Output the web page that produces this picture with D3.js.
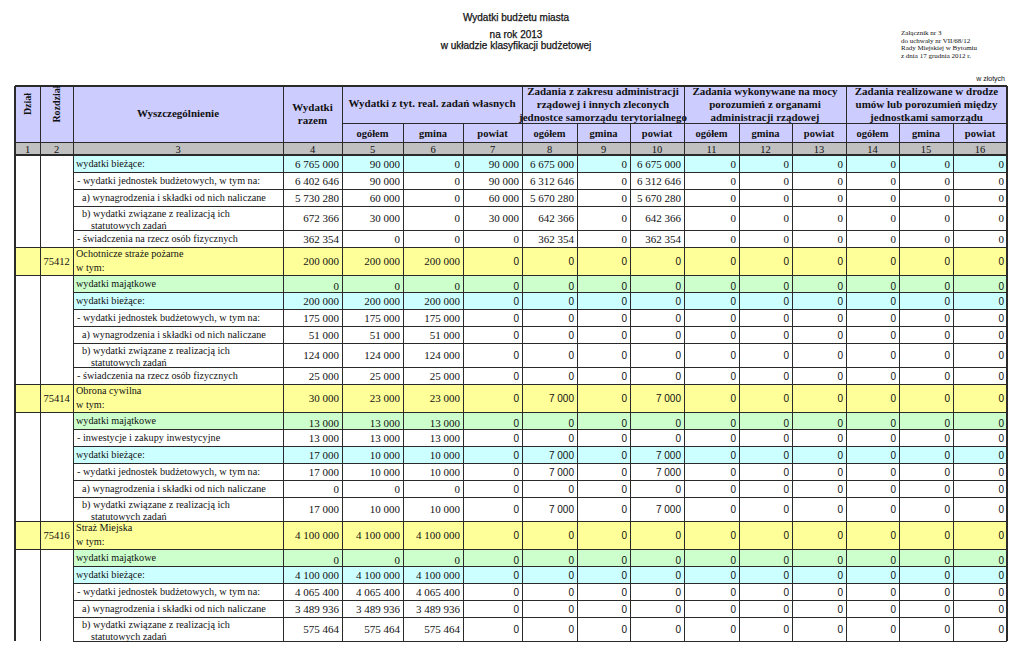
<!DOCTYPE html>
<html>
<head>
<meta charset="utf-8">
<script src="https://cdn.jsdelivr.net/npm/d3@7"></script>
<style>
body { margin: 0; background: #fff; }
svg text { fill: #111; }
</style>
</head>
<body>
<svg id="chart" width="1023" height="672"></svg>
<script>
// ---- data ----
var titleLines = ["Wydatki budżetu miasta", "na rok 2013", "w układzie klasyfikacji budżetowej"];
var noteLines = ["Załącznik nr 3", "do uchwały nr VII/68/12", "Rady Miejskiej w Bytomiu", "z dnia 17 grudnia 2012 r."];
var unitLabel = "w złotych";
var colNumbers = d3.range(1, 17);
var groupHeads = [
  ["Wydatki z tyt. real. zadań własnych"],
  ["Zadania z zakresu administracji", "rządowej i innych zleconych", "jednostce samorządu terytorialnego"],
  ["Zadania wykonywane na mocy", "porozumień z organami", "administracji rządowej"],
  ["Zadania realizowane w drodze", "umów lub porozumień między", "jednostkami samorządu"]
];
var subHeads = ["ogółem", "gmina", "powiat"];

// kind: sec = rozdział row, maj = wydatki majątkowe, biez = wydatki bieżące, sub/sub2 = plain rows
var block0 = [
  {kind: "biez", label: ["wydatki bieżące:"], v: [6765000, 90000, 0, 90000, 6675000, 0, 6675000, 0, 0, 0, 0, 0, 0]},
  {kind: "sub", label: ["- wydatki jednostek budżetowych, w tym na:"], v: [6402646, 90000, 0, 90000, 6312646, 0, 6312646, 0, 0, 0, 0, 0, 0]},
  {kind: "sub2", label: ["a) wynagrodzenia i składki od nich naliczane"], v: [5730280, 60000, 0, 60000, 5670280, 0, 5670280, 0, 0, 0, 0, 0, 0]},
  {kind: "sub2", label: ["b) wydatki związane z realizacją ich", "statutowych zadań"], v: [672366, 30000, 0, 30000, 642366, 0, 642366, 0, 0, 0, 0, 0, 0]},
  {kind: "sub", label: ["- świadczenia na rzecz osób fizycznych"], v: [362354, 0, 0, 0, 362354, 0, 362354, 0, 0, 0, 0, 0, 0]}
];
var block75412 = [
  {kind: "sec", code: "75412", label: ["Ochotnicze straże pożarne", "w tym:"], v: [200000, 200000, 200000, 0, 0, 0, 0, 0, 0, 0, 0, 0, 0]},
  {kind: "maj", label: ["wydatki majątkowe"], v: [0, 0, 0, 0, 0, 0, 0, 0, 0, 0, 0, 0, 0]},
  {kind: "biez", label: ["wydatki bieżące:"], v: [200000, 200000, 200000, 0, 0, 0, 0, 0, 0, 0, 0, 0, 0]},
  {kind: "sub", label: ["- wydatki jednostek budżetowych, w tym na:"], v: [175000, 175000, 175000, 0, 0, 0, 0, 0, 0, 0, 0, 0, 0]},
  {kind: "sub2", label: ["a) wynagrodzenia i składki od nich naliczane"], v: [51000, 51000, 51000, 0, 0, 0, 0, 0, 0, 0, 0, 0, 0]},
  {kind: "sub2", label: ["b) wydatki związane z realizacją ich", "statutowych zadań"], v: [124000, 124000, 124000, 0, 0, 0, 0, 0, 0, 0, 0, 0, 0]},
  {kind: "sub", label: ["- świadczenia na rzecz osób fizycznych"], v: [25000, 25000, 25000, 0, 0, 0, 0, 0, 0, 0, 0, 0, 0]}
];
var block75414 = [
  {kind: "sec", code: "75414", label: ["Obrona cywilna", "w tym:"], v: [30000, 23000, 23000, 0, 7000, 0, 7000, 0, 0, 0, 0, 0, 0]},
  {kind: "maj", label: ["wydatki majątkowe"], v: [13000, 13000, 13000, 0, 0, 0, 0, 0, 0, 0, 0, 0, 0]},
  {kind: "sub", label: ["- inwestycje i zakupy inwestycyjne"], v: [13000, 13000, 13000, 0, 0, 0, 0, 0, 0, 0, 0, 0, 0]},
  {kind: "biez", label: ["wydatki bieżące:"], v: [17000, 10000, 10000, 0, 7000, 0, 7000, 0, 0, 0, 0, 0, 0]},
  {kind: "sub", label: ["- wydatki jednostek budżetowych, w tym na:"], v: [17000, 10000, 10000, 0, 7000, 0, 7000, 0, 0, 0, 0, 0, 0]},
  {kind: "sub2", label: ["a) wynagrodzenia i składki od nich naliczane"], v: [0, 0, 0, 0, 0, 0, 0, 0, 0, 0, 0, 0, 0]},
  {kind: "sub2", label: ["b) wydatki związane z realizacją ich", "statutowych zadań"], v: [17000, 10000, 10000, 0, 7000, 0, 7000, 0, 0, 0, 0, 0, 0]}
];
var block75416 = [
  {kind: "sec", code: "75416", label: ["Straż Miejska", "w tym:"], v: [4100000, 4100000, 4100000, 0, 0, 0, 0, 0, 0, 0, 0, 0, 0]},
  {kind: "maj", label: ["wydatki majątkowe"], v: [0, 0, 0, 0, 0, 0, 0, 0, 0, 0, 0, 0, 0]},
  {kind: "biez", label: ["wydatki bieżące:"], v: [4100000, 4100000, 4100000, 0, 0, 0, 0, 0, 0, 0, 0, 0, 0]},
  {kind: "sub", label: ["- wydatki jednostek budżetowych, w tym na:"], v: [4065400, 4065400, 4065400, 0, 0, 0, 0, 0, 0, 0, 0, 0, 0]},
  {kind: "sub2", label: ["a) wynagrodzenia i składki od nich naliczane"], v: [3489936, 3489936, 3489936, 0, 0, 0, 0, 0, 0, 0, 0, 0, 0]},
  {kind: "sub2", label: ["b) wydatki związane z realizacją ich", "statutowych zadań"], v: [575464, 575464, 575464, 0, 0, 0, 0, 0, 0, 0, 0, 0, 0]}
];
var blocks = [block0, block75412, block75414, block75416];

// ---- layout ----
var colW = [25, 33, 210, 59, 61, 60, 59, 55, 53, 54, 55, 53, 54, 53, 54, 54];
var tblLeft = 15, tblTop = 86;
var edges = [tblLeft].concat(Array.from(d3.cumsum(colW), function(d) { return d + tblLeft }));
var x = d3.scaleOrdinal().domain(d3.range(17)).range(edges); // x(i) = left edge of column i (0-based)
var hdr1 = 123, hdr2 = 142, hdr3 = 155;
var fills = {sec: "#ffff99", maj: "#ccffcc", biez: "#ccffff", sub: "#ffffff", sub2: "#ffffff"};
var serif = "'Liberation Serif', 'Times New Roman', serif",
    sans = "'Liberation Sans', Arial, sans-serif";
var fmt = d3.formatLocale({decimal: ",", thousands: "\u00a0", grouping: [3], currency: ["", ""]}).format(",d");

function rowH(r) {
  if (r.kind == "sec") return 28;
  return r.label.length > 1 ? 24 : 17;
}

// flatten rows with y positions
var rows = [], yy = hdr3;
blocks.forEach(function(b, bi) {
  b.forEach(function(r, ri) {
    rows.push({r: r, y: yy, h: rowH(r), block: bi, first: ri == 0, last: ri == b.length - 1});
    yy += rowH(r);
  });
});
var tblBottom = yy;

var svg = d3.select("#chart");

// titles
svg.append("g").selectAll("text").data(titleLines).join("text")
  .attr("x", 516).attr("y", function(d, i) { return [21, 38, 49][i] })
  .attr("text-anchor", "middle")
  .style("font-family", sans).style("font-size", "10px")
  .style("stroke", "#111").style("stroke-width", 0.25)
  .text(function(d) { return d });
svg.append("g").selectAll("text").data(noteLines).join("text")
  .attr("x", 901).attr("y", function(d, i) { return 35 + i * 7.6 })
  .style("font-family", serif).style("font-size", "7px")
  .text(function(d) { return d });
svg.append("text").attr("x", 1005).attr("y", 81).attr("text-anchor", "end")
  .style("font-family", sans).style("font-size", "7px").text(unitLabel);

// header backgrounds
var head = svg.append("g");
head.append("rect").attr("x", tblLeft).attr("y", tblTop).attr("width", x(16) - tblLeft).attr("height", hdr2 - tblTop).attr("fill", "#ccccff");
head.append("rect").attr("x", tblLeft).attr("y", hdr2).attr("width", x(16) - tblLeft).attr("height", hdr3 - hdr2).attr("fill", "#c0c0c0");

// body backgrounds
var body = svg.append("g");
rows.forEach(function(d) {
  var x0 = d.r.kind == "sec" ? x(0) : x(2);
  body.append("rect").attr("x", x0).attr("y", d.y).attr("width", x(16) - x0).attr("height", d.h)
    .attr("fill", fills[d.r.kind]);
});

// grid lines
var lines = svg.append("g").attr("stroke", "#2a2a2a").attr("stroke-width", 1).attr("shape-rendering", "crispEdges");
function hline(x0, x1, y, w) { lines.append("line").attr("x1", x0).attr("x2", x1).attr("y1", y).attr("y2", y).attr("stroke-width", w || 1) }
function vline(xp, y0, y1, w) { lines.append("line").attr("x1", xp).attr("x2", xp).attr("y1", y0).attr("y2", y1).attr("stroke-width", w || 1) }

[1, 2, 3, 4, 7, 10, 13].forEach(function(i) { vline(x(i), tblTop, hdr1) });
d3.range(1, 16).forEach(function(i) { vline(x(i), hdr1, tblBottom) });
hline(x(4), x(16), hdr1);
hline(tblLeft, x(16), hdr2);
hline(tblLeft, x(16), hdr3, 2);
rows.forEach(function(d) {
  if (d.r.kind == "sec") hline(tblLeft, x(16), d.y);
  hline(d.r.kind == "sec" ? tblLeft : x(2), x(16), d.y + d.h);
});
hline(tblLeft, x(16), tblTop, 2);
vline(tblLeft, tblTop, tblBottom, 2);
vline(x(16), tblTop, tblBottom, 2);

// header texts
var ht = svg.append("g").style("font-family", serif).style("font-weight", "bold").attr("text-anchor", "middle");
ht.append("text").attr("transform", "translate(" + (x(0) + x(1)) / 2 + "," + 104 + ") rotate(-90)")
  .attr("dy", "0.35em").style("font-size", "10px").text("Dział");
ht.append("text").attr("transform", "translate(" + (x(1) + x(2)) / 2 + "," + 104 + ") rotate(-90)")
  .attr("dy", "0.35em").style("font-size", "10px").text("Rozdział");
ht.append("text").attr("x", (x(2) + x(3)) / 2).attr("y", 117).style("font-size", "11px").text("Wyszczególnienie");
ht.append("text").attr("x", (x(3) + x(4)) / 2).attr("y", 111).style("font-size", "11px").text("Wydatki");
ht.append("text").attr("x", (x(3) + x(4)) / 2).attr("y", 124).style("font-size", "11px").text("razem");
groupHeads.forEach(function(g, gi) {
  var cx = (x(4 + gi * 3) + x(7 + gi * 3)) / 2;
  var y0 = g.length == 1 ? 107 : 95;
  ht.append("g").selectAll("text").data(g).join("text")
    .attr("x", cx).attr("y", function(d, i) { return y0 + i * 13 })
    .style("font-size", "11px").text(function(d) { return d });
  ht.append("g").selectAll("text").data(subHeads).join("text")
    .attr("x", function(d, i) { return (x(4 + gi * 3 + i) + x(5 + gi * 3 + i)) / 2 })
    .attr("y", 136.5).style("font-size", "10.5px").text(function(d) { return d });
});
svg.append("g").attr("text-anchor", "middle").selectAll("text").data(colNumbers).join("text")
  .attr("x", function(d) { return (x(d - 1) + x(d)) / 2 })
  .attr("y", 152.5).style("font-family", serif).style("font-size", "10.5px")
  .text(function(d) { return d });

// body texts
var bt = svg.append("g");
rows.forEach(function(d) {
  var r = d.r;
  var indent = r.kind == "sub2" ? 9 : (r.kind == "sub" ? 4 : 3);
  var lh = r.kind == "sec" ? 14.5 : 12;
  var y0 = r.kind == "sec" ? d.y + 9.5 : (r.label.length > 1 ? d.y + 10.5 : d.y + 11.5);
  bt.append("g").selectAll("text").data(r.label).join("text")
    .attr("x", function(t, i) { return x(2) + indent + (i > 0 && r.kind != "sec" ? 9 : 0) })
    .attr("y", function(t, i) { return y0 + i * lh })
    .style("font-family", serif).style("font-size", "10.2px")
    .text(function(t) { return t });
  if (r.code) {
    bt.append("text").attr("x", (x(1) + x(2)) / 2).attr("y", d.y + d.h / 2 + 3.5)
      .attr("text-anchor", "middle").style("font-family", serif).style("font-size", "10.5px").text(r.code);
  }
  var ny = r.kind == "maj" ? d.y + 14.5 : d.y + d.h / 2 + 4;
  bt.append("g").selectAll("text").data(r.v).join("text")
    .attr("x", function(v, i) { return x(4 + i) - 3 })
    .attr("y", ny)
    .attr("text-anchor", "end")
    .style("font-family", function(v, i) { return d.block > 0 && i >= 3 ? sans : serif })
    .style("font-size", function(v, i) { return d.block > 0 && i >= 3 ? "10px" : "11px" })
    .text(function(v) { return fmt(v) });
});
</script>
</body>
</html>
